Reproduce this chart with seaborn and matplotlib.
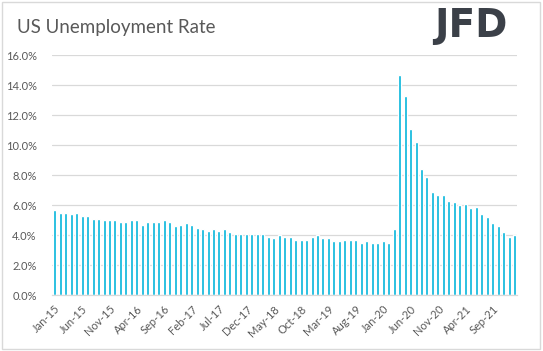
import numpy as np
import pandas as pd
import matplotlib.pyplot as plt
import matplotlib.ticker as mtick
from matplotlib.patches import Rectangle
import seaborn as sns

# monthly US unemployment rate, Jan-15 .. Jan-22 (%)
months = pd.date_range("2015-01-01", "2022-01-01", freq="MS").strftime("%b-%y").tolist()
rate = [5.7, 5.5, 5.5, 5.4, 5.5, 5.3, 5.3, 5.1, 5.1, 5.0, 5.0, 5.0,
        4.9, 4.9, 5.0, 5.0, 4.7, 4.9, 4.9, 4.9, 5.0, 4.9, 4.6, 4.7,
        4.8, 4.7, 4.5, 4.4, 4.3, 4.4, 4.3, 4.4, 4.2, 4.1, 4.1, 4.1,
        4.1, 4.1, 4.1, 3.9, 3.8, 4.0, 3.9, 3.9, 3.7, 3.7, 3.7, 3.9,
        4.0, 3.8, 3.8, 3.6, 3.6, 3.7, 3.7, 3.7, 3.5, 3.6, 3.5, 3.5,
        3.6, 3.5, 4.4, 14.7, 13.3, 11.1, 10.2, 8.4, 7.9, 6.9, 6.7, 6.7,
        6.3, 6.2, 6.0, 6.1, 5.8, 5.9, 5.4, 5.2, 4.8, 4.6, 4.2, 3.9,
        4.0]
label_step = 5

df = pd.DataFrame({"month": months, "rate": rate})

sns.set_style("white")
plt.rcParams['font.family'] = ['Lato', 'DejaVu Sans']
grey = "#595959"

fig = plt.figure(figsize=(5.43, 3.51), dpi=100)
ax = fig.add_axes([0.0958, 0.1595, 0.8569, 0.6838])

sns.barplot(data=df, x="month", y="rate", color="#00b4da", saturation=1,
            width=0.55, ax=ax)

ax.set_ylim(0, 16)
ax.set_xlim(-0.5, len(months) - 0.5)
ax.yaxis.set_major_locator(mtick.MultipleLocator(2))
ax.yaxis.set_major_formatter(mtick.FuncFormatter(lambda v, p: f"{v:.1f}%"))
ax.grid(axis="y", color="#d9d9d9", linewidth=0.9)
ax.set_axisbelow(True)

pos = np.arange(0, len(months), label_step)
ax.set_xticks(pos)
ax.set_xticklabels([months[i] for i in pos], rotation=45, ha="right",
                   rotation_mode="anchor")
ax.set_xticks(np.arange(-0.5, len(months), label_step), minor=True)
ax.tick_params(axis="x", which="major", length=0, pad=6, labelsize=8, labelcolor=grey)
ax.tick_params(axis="x", which="minor", length=4, color="#d9d9d9", width=0.9)
ax.tick_params(axis="y", length=0, pad=11, labelsize=8, labelcolor=grey)
ax.set_xlabel("")
ax.set_ylabel("")

for s in ["top", "right", "left"]:
    ax.spines[s].set_visible(False)
ax.spines["bottom"].set_color("#d9d9d9")
ax.spines["bottom"].set_linewidth(0.9)

fig.text(0.031, 0.923, "US Unemployment Rate", fontsize=13.5, color=grey,
         ha="left", va="center")
fig.text(0.934, 0.925, "JFD", fontsize=28, fontweight="bold", color="#3b4048",
         ha="right", va="center", family="DejaVu Sans")

fig.patches.append(Rectangle((0.004, 0.007), 0.991, 0.987, transform=fig.transFigure,
                             fill=False, edgecolor="#d9d9d9", linewidth=1))

fig.savefig("out.png", dpi=100)
